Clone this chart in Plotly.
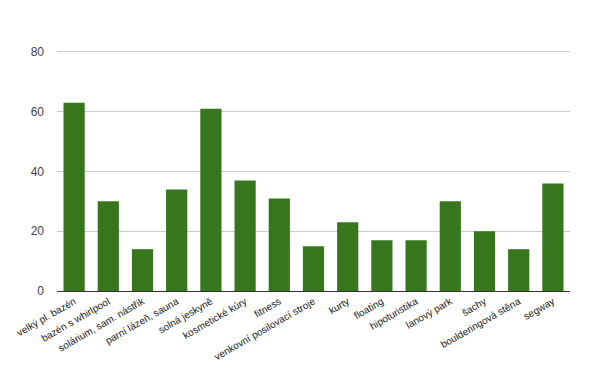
import plotly.graph_objects as go

categories = ["velký pl. bazén", "bazén s whirlpool", "solárium, sam. nástřik", "parní lázeň, sauna",
              "solná jeskyně", "kosmetické kúry", "fitness", "venkovní posilovací stroje", "kurty",
              "floating", "hipoturistika", "lanový park", "šachy", "boulderingová stěna", "segway"]
values = [63, 30, 14, 34, 61, 37, 31, 15, 23, 17, 17, 30, 20, 14, 36]
y_ticks = [0, 20, 40, 60, 80]

fig = go.Figure(go.Bar(x=categories, y=values, marker_color="#38761d", marker_line_width=0))
fig.update_layout(
    width=611, height=368, margin=dict(l=57, r=41, t=49, b=77),
    paper_bgcolor="white", plot_bgcolor="white", showlegend=False, bargap=0.38,
    font=dict(family="Arial, Liberation Sans", size=10, color="#222"),
)
fig.update_xaxes(tickangle=-30, showgrid=False, showline=True, linecolor="#333", linewidth=1,
                 tickfont=dict(size=10, color="#222"), ticks="", automargin=False)
fig.update_yaxes(range=[0, 81], tickvals=y_ticks, showgrid=True, gridcolor="#cccccc",
                 zeroline=False, tickfont=dict(size=12, color="#444"), ticks="",
                 ticklabelstandoff=12, automargin=False)
fig.write_html("out.html")
